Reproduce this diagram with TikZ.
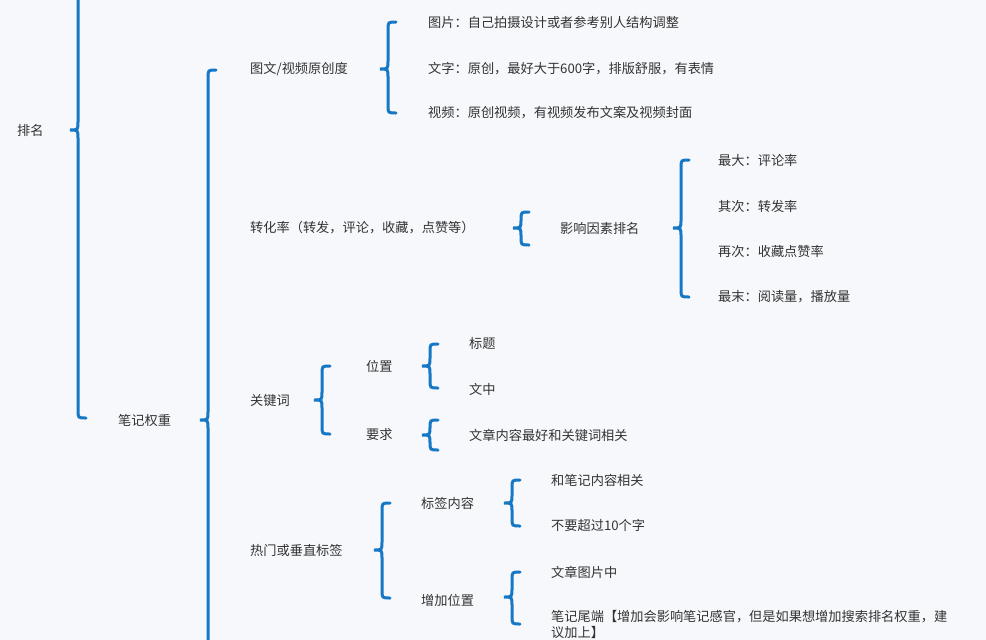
\documentclass[tikz,border=0pt]{standalone}
\usepackage{fontspec}
\setmainfont{Noto Sans CJK SC}
\definecolor{bg}{HTML}{F7F8FC}
\definecolor{br}{HTML}{1677C4}
\definecolor{tx}{HTML}{333333}
\begin{document}
\begin{tikzpicture}[x=1pt,y=-1pt,
  lbl/.style={anchor=west,inner sep=0pt,text=tx,font=\fontsize{13.2}{16}\selectfont},
  brc/.style={draw=br,line width=3pt,line cap=round}]
\fill[bg] (0,0) rectangle (986,640);
\useasboundingbox (0,0) rectangle (986,640);
\newcommand\mybrace[4]{% x, top, mid, bottom
  \draw[brc] (#1+8,#2) .. controls (#1,#2) .. (#1,#2+8) -- (#1,#3-8) .. controls (#1,#3) .. (#1-8,#3)
     .. controls (#1,#3) .. (#1,#3+8) -- (#1,#4-8) .. controls (#1,#4) .. (#1+8,#4);}
\mybrace{78}{-20}{130}{418}
\mybrace{208}{70}{420}{670}
\mybrace{388}{22}{69}{113}
\mybrace{521}{212}{228}{245}
\mybrace{681}{160}{228}{297}
\mybrace{322}{366}{400}{434}
\mybrace{430}{344}{366}{388}
\mybrace{430}{420}{435}{450}
\mybrace{382}{503}{550}{598}
\mybrace{512}{480}{503}{526}
\mybrace{512}{572}{597}{624}
\node[lbl] (pm) at (17,130) {排名};
\node[lbl] (bj) at (118,420) {笔记权重};
\node[lbl] (tw) at (250,69) {图文/视频原创度};
\node[lbl] (zh) at (250,228) {转化率（转发，评论，收藏，点赞等）};
\node[lbl] (gj) at (250,400) {关键词};
\node[lbl] (rm) at (250,550) {热门或垂直标签};
\node[lbl] (tp) at (428,22) {图片：自己拍摄设计或者参考别人结构调整};
\node[lbl] (wz) at (428,69) {文字：原创，最好大于600字，排版舒服，有表情};
\node[lbl] (sp) at (428,113) {视频：原创视频，有视频发布文案及视频封面};
\node[lbl] (yx) at (560,228) {影响因素排名};
\node[lbl] (zd) at (718,160) {最大：评论率};
\node[lbl] (qc) at (718,206) {其次：转发率};
\node[lbl] (zc) at (718,251) {再次：收藏点赞率};
\node[lbl] (zm) at (718,297) {最末：阅读量，播放量};
\node[lbl] (wzh) at (366,366) {位置};
\node[lbl] (yq) at (366,435) {要求};
\node[lbl] (bt) at (469,343) {标题};
\node[lbl] (wzz) at (469,389) {文中};
\node[lbl] (nr) at (469,435) {文章内容最好和关键词相关};
\node[lbl] (bq) at (421,503) {标签内容};
\node[lbl] (zj) at (421,600) {增加位置};
\node[lbl] (hb) at (551,480) {和笔记内容相关};
\node[lbl] (bu) at (551,525) {不要超过10个字};
\node[lbl] (wt) at (551,572) {文章图片中};
\node[lbl,anchor=north west,text width=425pt,align=left] (wd) at (551,610) {笔记尾端【增加会影响笔记感官，但是如果想增加搜索排名权重，建\\议加上】};
\end{tikzpicture}
\end{document}
